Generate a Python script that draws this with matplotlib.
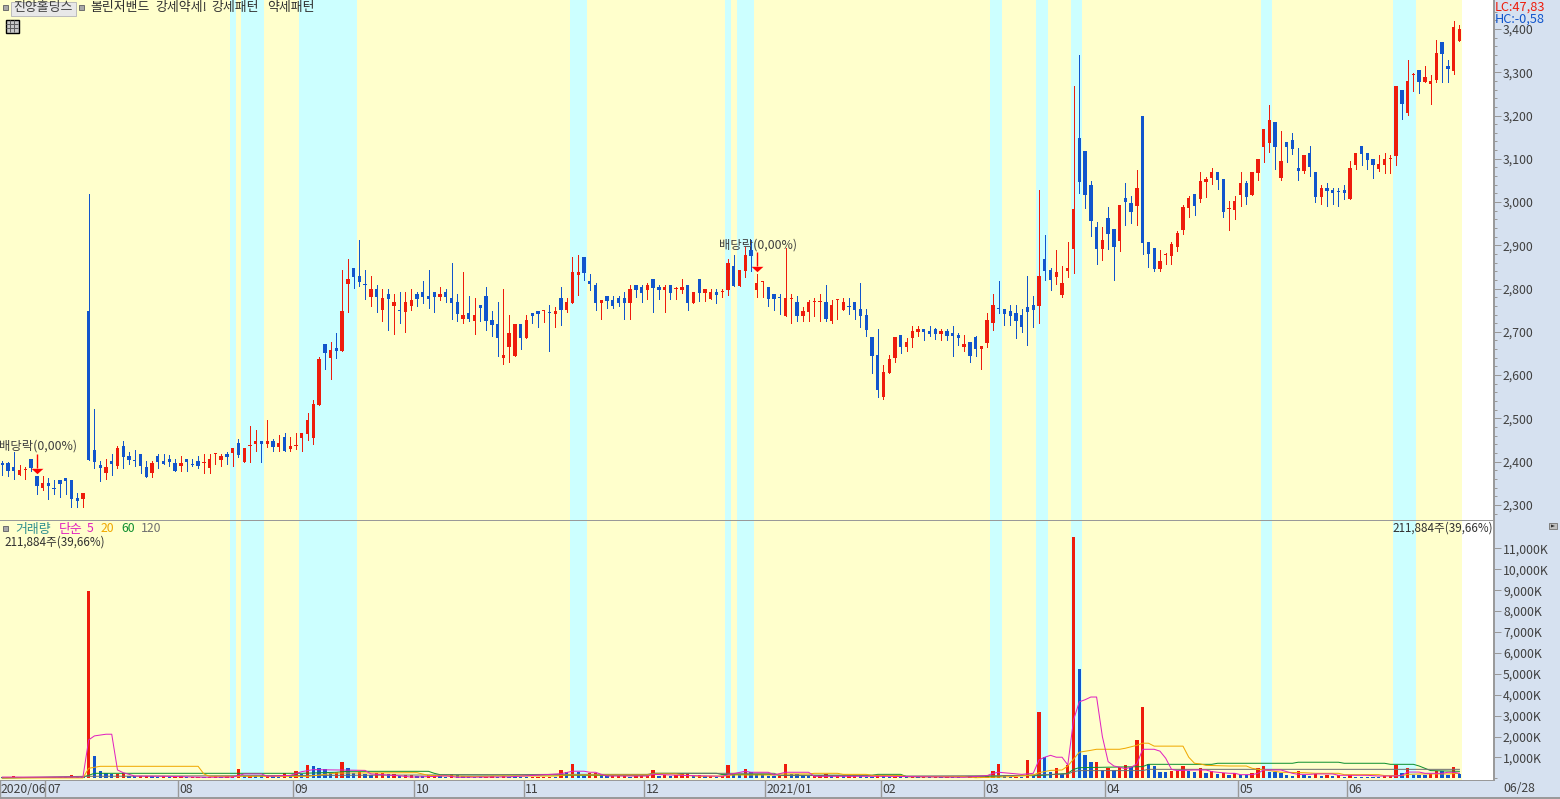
"""Daily candle chart with volume pane, 진양홀딩스, 2020/06 - 2021/06/28."""

import matplotlib
matplotlib.use("Agg")
import matplotlib.pyplot as plt
from matplotlib.patches import Polygon, Rectangle
from matplotlib.ticker import FixedLocator
from matplotlib.transforms import ScaledTranslation
import numpy as np

plt.rcParams["font.family"] = ["Noto Sans CJK KR", "DejaVu Sans"]

open_ = [
    2397, 2397, 2388, 2370, 2380, 2406, 2367, 2340, 2351, 2337,
    2358, 2363, 2358, 2316, 2314, 2748, 2427, 2393, 2374, 2402,
    2390, 2437, 2413, 2402, 2418, 2388, 2374, 2413, 2402, 2406,
    2397, 2390, 2406, 2393, 2402, 2396, 2386, 2417, 2404, 2418,
    2420, 2443, 2400, 2436, 2441, 2448, 2441, 2448, 2434, 2457,
    2430, 2436, 2455, 2464, 2455, 2531, 2672, 2640, 2663, 2656,
    2811, 2848, 2829, 2809, 2781, 2800, 2751, 2788, 2760, 2749,
    2746, 2760, 2788, 2793, 2783, 2793, 2781, 2793, 2779, 2770,
    2730, 2744, 2726, 2763, 2783, 2728, 2719, 2640, 2666, 2645,
    2719, 2686, 2744, 2749, 2748, 2744, 2742, 2779, 2751, 2767,
    2832, 2874, 2818, 2809, 2767, 2783, 2774, 2779, 2779, 2767,
    2809, 2804, 2797, 2823, 2804, 2797, 2809, 2799, 2797, 2809,
    2767, 2823, 2790, 2776, 2793, 2792, 2797, 2853, 2807, 2841,
    2890, 2797, 2815, 2804, 2788, 2779, 2737, 2777, 2769, 2737,
    2746, 2768, 2768, 2769, 2725, 2773, 2751, 2758, 2769, 2753,
    2739, 2688, 2647, 2550, 2605, 2640, 2693, 2665, 2686, 2700,
    2707, 2702, 2707, 2695, 2702, 2698, 2693, 2665, 2677, 2688,
    2661, 2674, 2721, 2753, 2753, 2748, 2744, 2739, 2758, 2762,
    2760, 2869, 2843, 2827, 2786, 2841, 2892, 3148, 3118, 3040,
    2943, 2892, 2963, 2938, 2910, 3010, 2998, 2991, 3199, 2908,
    2894, 2846, 2877, 2876, 2896, 2936, 2987, 3019, 3007, 3047,
    3056, 3070, 3053, 2983, 2982, 3017, 3044, 3017, 3067, 3127,
    3137, 3185, 3056, 3139, 3144, 3079, 3072, 3114, 3070, 3012,
    3033, 3028, 3024, 3028, 3007, 3086, 3130, 3114, 3100, 3077,
    3086, 3099, 3107, 3259, 3206, 3293, 3305, 3278, 3273, 3282,
    3370, 3315, 3303, 3372,
]
close_ = [
    2391, 2379, 2379, 2381, 2380, 2385, 2344, 2351, 2344, 2336,
    2349, 2356, 2314, 2309, 2328, 2404, 2400, 2386, 2388, 2395,
    2432, 2411, 2404, 2401, 2390, 2365, 2397, 2400, 2395, 2400,
    2379, 2397, 2400, 2392, 2390, 2396, 2406, 2417, 2413, 2411,
    2432, 2416, 2432, 2436, 2448, 2441, 2448, 2434, 2443, 2425,
    2437, 2436, 2467, 2497, 2534, 2638, 2651, 2658, 2656, 2748,
    2822, 2827, 2815, 2808, 2800, 2781, 2779, 2776, 2770, 2748,
    2770, 2774, 2776, 2781, 2776, 2781, 2788, 2781, 2767, 2742,
    2740, 2730, 2740, 2756, 2726, 2716, 2686, 2647, 2698, 2719,
    2686, 2728, 2737, 2742, 2748, 2743, 2749, 2751, 2770, 2839,
    2839, 2837, 2811, 2767, 2774, 2772, 2760, 2767, 2767, 2800,
    2797, 2790, 2809, 2802, 2797, 2804, 2790, 2799, 2804, 2767,
    2793, 2790, 2800, 2793, 2786, 2792, 2860, 2807, 2844, 2878,
    2876, 2813, 2815, 2776, 2776, 2778, 2778, 2777, 2737, 2748,
    2769, 2768, 2768, 2730, 2762, 2773, 2769, 2757, 2751, 2737,
    2704, 2644, 2566, 2607, 2638, 2688, 2665, 2677, 2702, 2707,
    2700, 2695, 2695, 2702, 2691, 2691, 2686, 2672, 2644, 2661,
    2668, 2728, 2762, 2752, 2741, 2737, 2725, 2712, 2746, 2751,
    2829, 2841, 2820, 2839, 2813, 2848, 2984, 3047, 3017, 2956,
    2892, 2913, 2926, 2896, 2993, 3000, 2977, 3033, 2906, 2880,
    2846, 2864, 2877, 2903, 2929, 2989, 3010, 2991, 3049, 3053,
    3070, 3051, 2977, 2983, 3003, 3044, 3012, 3070, 3100, 3169,
    3190, 3127, 3095, 3127, 3123, 3072, 3109, 3081, 3012, 3033,
    3026, 3021, 3023, 3021, 3079, 3114, 3111, 3097, 3086, 3088,
    3100, 3099, 3268, 3227, 3280, 3293, 3278, 3289, 3280, 3345,
    3342, 3308, 3405, 3400,
]
high = [
    2402, 2400, 2423, 2393, 2388, 2406, 2367, 2367, 2363, 2358,
    2358, 2363, 2358, 2328, 2328, 3019, 2522, 2402, 2406, 2418,
    2437, 2448, 2423, 2427, 2418, 2402, 2402, 2418, 2418, 2416,
    2406, 2413, 2406, 2406, 2413, 2418, 2418, 2418, 2418, 2423,
    2432, 2453, 2432, 2483, 2473, 2448, 2497, 2453, 2462, 2467,
    2457, 2467, 2467, 2513, 2543, 2642, 2672, 2677, 2698, 2843,
    2869, 2848, 2912, 2844, 2830, 2809, 2800, 2800, 2788, 2793,
    2793, 2800, 2793, 2818, 2844, 2793, 2804, 2800, 2860, 2788,
    2839, 2783, 2779, 2763, 2804, 2749, 2770, 2800, 2740, 2719,
    2719, 2740, 2744, 2749, 2749, 2763, 2758, 2804, 2779, 2874,
    2878, 2874, 2834, 2813, 2774, 2783, 2783, 2783, 2793, 2809,
    2809, 2809, 2813, 2823, 2809, 2809, 2809, 2804, 2823, 2809,
    2793, 2823, 2800, 2800, 2800, 2800, 2869, 2878, 2844, 2897,
    2913, 2834, 2818, 2804, 2788, 2788, 2894, 2788, 2783, 2758,
    2774, 2778, 2788, 2808, 2774, 2774, 2778, 2778, 2769, 2813,
    2753, 2688, 2707, 2624, 2647, 2688, 2693, 2686, 2714, 2714,
    2707, 2714, 2709, 2707, 2707, 2714, 2698, 2693, 2677, 2691,
    2668, 2744, 2788, 2818, 2753, 2762, 2762, 2753, 2829, 2783,
    3028, 2924, 2848, 2889, 2852, 2908, 3268, 3340, 3118, 3049,
    2954, 2943, 2989, 2938, 2993, 3044, 3014, 3074, 3199, 2908,
    2894, 2889, 2883, 2908, 2933, 2993, 3014, 3019, 3070, 3058,
    3079, 3070, 3053, 3003, 3014, 3070, 3049, 3070, 3100, 3169,
    3224, 3185, 3164, 3139, 3160, 3125, 3109, 3130, 3070, 3040,
    3044, 3033, 3033, 3040, 3095, 3114, 3130, 3114, 3100, 3109,
    3114, 3109, 3268, 3259, 3328, 3298, 3305, 3315, 3294, 3375,
    3370, 3328, 3418, 3409,
]
low = [
    2370, 2366, 2360, 2370, 2360, 2379, 2326, 2335, 2314, 2326,
    2319, 2326, 2296, 2296, 2296, 2404, 2386, 2356, 2360, 2370,
    2386, 2386, 2395, 2390, 2374, 2365, 2365, 2386, 2395, 2390,
    2379, 2379, 2379, 2390, 2386, 2374, 2374, 2395, 2390, 2395,
    2390, 2411, 2400, 2400, 2425, 2400, 2434, 2425, 2425, 2425,
    2425, 2430, 2425, 2450, 2441, 2531, 2614, 2591, 2640, 2656,
    2746, 2802, 2806, 2776, 2760, 2746, 2726, 2705, 2696, 2721,
    2700, 2751, 2760, 2767, 2756, 2746, 2774, 2770, 2730, 2726,
    2721, 2726, 2696, 2726, 2705, 2691, 2645, 2626, 2631, 2645,
    2661, 2686, 2721, 2712, 2723, 2656, 2712, 2716, 2746, 2767,
    2786, 2820, 2797, 2751, 2730, 2756, 2756, 2760, 2730, 2730,
    2781, 2770, 2776, 2746, 2776, 2746, 2776, 2776, 2790, 2751,
    2767, 2772, 2772, 2776, 2767, 2781, 2786, 2807, 2807, 2827,
    2841, 2781, 2781, 2760, 2751, 2741, 2737, 2721, 2725, 2725,
    2725, 2737, 2725, 2725, 2721, 2730, 2751, 2741, 2730, 2711,
    2691, 2605, 2550, 2545, 2605, 2631, 2651, 2656, 2665, 2691,
    2681, 2691, 2684, 2681, 2681, 2644, 2670, 2656, 2631, 2644,
    2614, 2665, 2704, 2744, 2716, 2716, 2686, 2700, 2670, 2712,
    2721, 2820, 2797, 2811, 2781, 2827, 2836, 3021, 2987, 2922,
    2857, 2866, 2892, 2820, 2887, 2947, 2952, 2947, 2880, 2850,
    2841, 2841, 2857, 2857, 2887, 2926, 2966, 2970, 3000, 3012,
    3042, 3030, 2966, 2936, 2961, 2991, 2996, 3017, 3051, 3093,
    3116, 3077, 3051, 3093, 3111, 3051, 3067, 3060, 3000, 2996,
    2991, 2996, 2991, 3007, 3007, 3077, 3086, 3077, 3056, 3072,
    3067, 3067, 3086, 3192, 3201, 3257, 3252, 3278, 3227, 3278,
    3278, 3278, 3296, 3372,
]
# volume in thousands of shares
volume = [
    60, 70, 120, 60, 50, 70, 50, 70, 50, 40,
    60, 45, 150, 60, 50, 8950, 1050, 340, 240, 190,
    200, 240, 130, 100, 110, 120, 90, 80, 100, 70,
    85, 95, 60, 70, 85, 60, 75, 95, 70, 90,
    120, 460, 100, 130, 100, 90, 110, 90, 70, 240,
    130, 340, 190, 620, 570, 510, 430, 240, 280, 770,
    480, 240, 300, 190, 150, 240, 260, 190, 220, 120,
    160, 180, 130, 90, 150, 170, 100, 70, 210, 160,
    130, 90, 70, 60, 80, 90, 70, 90, 70, 60,
    50, 45, 55, 65, 75, 85, 60, 400, 290, 690,
    320, 110, 240, 270, 160, 90, 110, 120, 130, 80,
    110, 120, 130, 400, 100, 160, 110, 150, 240, 250,
    120, 140, 90, 110, 80, 100, 640, 210, 150, 450,
    290, 200, 160, 130, 110, 130, 690, 210, 205, 160,
    120, 130, 140, 210, 100, 120, 90, 110, 120, 90,
    70, 60, 140, 90, 70, 85, 65, 55, 65, 60,
    70, 60, 70, 50, 60, 45, 40, 35, 130, 60,
    70, 90, 350, 690, 130, 60, 70, 60, 880, 130,
    3180, 1010, 300, 500, 210, 640, 11550, 5215, 1120, 780,
    790, 400, 500, 400, 540, 640, 540, 1840, 3420, 690,
    590, 300, 290, 350, 360, 590, 350, 300, 500, 255,
    350, 210, 255, 160, 240, 160, 155, 240, 480, 590,
    300, 295, 240, 160, 110, 350, 160, 110, 190, 110,
    160, 110, 160, 65, 160, 65, 60, 55, 50, 45,
    95, 100, 640, 240, 480, 160, 155, 150, 190, 350,
    340, 160, 530, 210,
]

# moving averages of volume, read at their turning points
ma5_x = [0, 14, 15, 16, 18, 19, 20, 21, 23, 28, 35, 40, 42, 45, 46, 50, 52, 54, 58, 63, 64, 69, 71, 75, 77, 79, 88, 97, 99, 101, 102, 103, 104, 105, 112, 113, 118, 125, 126, 129, 130, 133, 134, 136, 140, 141, 154, 167, 171, 172, 173, 175, 177, 179, 180, 181, 182, 183, 184, 185, 186, 187, 188, 189, 190, 191, 192, 193, 194, 195, 196, 197, 198, 200, 201, 202, 203, 204, 207, 209, 210, 211, 213, 214, 215, 217, 218, 219, 222, 223, 224, 225, 227, 228, 231, 232, 237, 239, 242, 243, 244, 246, 247, 250, 251, 252, 253]
ma5_y = [60, 60, 1840, 2030, 2110, 2110, 400, 270, 110, 100, 50, 60, 210, 210, 100, 140, 320, 415, 400, 380, 210, 120, 60, 90, 120, 50, 70, 220, 340, 340, 290, 290, 190, 110, 110, 190, 140, 100, 170, 340, 290, 290, 160, 290, 290, 95, 95, 50, 130, 240, 290, 240, 190, 240, 880, 1010, 1100, 1010, 1010, 640, 2800, 3660, 3760, 3890, 3890, 2000, 800, 590, 530, 460, 530, 690, 1390, 1390, 1300, 960, 430, 370, 400, 400, 320, 290, 240, 240, 175, 175, 240, 400, 400, 320, 240, 190, 190, 210, 210, 145, 145, 110, 110, 145, 300, 300, 240, 240, 290, 290, 240]
ma20_x = [0, 14, 15, 17, 34, 35, 36, 40, 53, 58, 72, 74, 82, 86, 96, 98, 112, 113, 117, 118, 121, 125, 127, 134, 135, 140, 141, 145, 146, 150, 151, 156, 157, 167, 169, 173, 175, 179, 180, 182, 184, 185, 187, 189, 190, 194, 195, 197, 198, 199, 200, 205, 206, 207, 208, 209, 213, 216, 217, 218, 220, 222, 226, 228, 232, 233, 239, 240, 243, 244, 246, 251, 253]
ma20_y = [20, 20, 480, 575, 575, 210, 95, 95, 95, 250, 270, 140, 80, 110, 110, 160, 160, 210, 210, 160, 95, 110, 160, 160, 210, 210, 240, 240, 190, 190, 140, 140, 80, 80, 30, 60, 80, 160, 270, 380, 400, 590, 1250, 1340, 1390, 1390, 1440, 1580, 1680, 1680, 1540, 1540, 1010, 720, 690, 620, 590, 590, 480, 430, 370, 290, 270, 240, 240, 175, 175, 130, 130, 190, 210, 210, 240]
ma60_x = [0, 14, 15, 16, 52, 58, 60, 74, 75, 76, 86, 96, 97, 112, 113, 124, 125, 134, 135, 151, 152, 156, 157, 173, 174, 180, 185, 186, 187, 198, 199, 210, 211, 224, 225, 232, 233, 240, 241, 245, 246, 247, 248, 253]
ma60_y = [20, 60, 145, 240, 240, 290, 335, 335, 240, 175, 160, 160, 145, 145, 240, 240, 180, 180, 145, 145, 190, 190, 80, 80, 130, 130, 240, 430, 510, 560, 670, 670, 720, 720, 770, 770, 720, 720, 670, 670, 590, 480, 370, 335]
ma120_x = [0, 14, 74, 86, 96, 112, 113, 134, 135, 155, 156, 175, 185, 186, 187, 198, 199, 253]
ma120_y = [20, 95, 160, 170, 190, 190, 240, 240, 145, 145, 110, 130, 210, 320, 370, 370, 430, 430]

# first and last candle of each highlighted stretch
band_first = [40, 42, 52, 99, 126, 128, 172, 180, 186, 219, 242]
band_last = [40, 45, 61, 101, 126, 130, 173, 181, 187, 220, 245]

month_first = [0, 8, 31, 51, 72, 91, 112, 133, 153, 171, 192, 215, 234]
month_labels = ["2020/06", "07", "08", "09", "10", "11", "12", "2021/01", "02", "03", "04", "05", "06"]

exdiv_idx = [6, 131]
exdiv_top = [2418, 2885]
exdiv_label_price = [2437, 2901]

price_ticks = list(range(2300, 3500, 100))
volume_ticks = list(range(1000, 12000, 1000))

RED = "#EE1C0C"
BLUE = "#1155CC"
YELLOW = "#FFFFCC"
CYAN = "#CCFFFF"
PANEL = "#D6E1F0"
AXIS_GRAY = "#999999"
TEXT = "#404040"
PX = 0.72  # one pixel in points at dpi 100
KOREAN_SIZE = 9.3
DIGIT_SIZE = 8.8

W, H = 1560, 799
X_MIN, X_MAX = -0.4, 259.0
LAST_EDGE = 253.5
BAR_WIDTH = 0.58

fig = plt.figure(figsize=(W / 100, H / 100), dpi=100, facecolor=PANEL)


def add_pane(top, bottom):
    ax = fig.add_axes([0, 1 - bottom / H, 1494 / W, (bottom - top) / H], facecolor="white")
    ax.set_xlim(X_MIN, X_MAX)
    ax.axvspan(X_MIN, LAST_EDGE, color=YELLOW, lw=0, zorder=0)
    for first, last in zip(band_first, band_last):
        ax.axvspan(first - 0.5, last + 0.5, color=CYAN, lw=0, zorder=0.5, antialiased=False)
    for side in ("top", "left"):
        ax.spines[side].set_visible(False)
    ax.spines["right"].set_color(AXIS_GRAY)
    ax.spines["right"].set_linewidth(1.4)
    ax.spines["bottom"].set_color(AXIS_GRAY)
    ax.spines["bottom"].set_linewidth(PX)
    ax.yaxis.tick_right()
    ax.tick_params(axis="y", which="major", length=5, width=PX, color=AXIS_GRAY,
                   labelsize=DIGIT_SIZE, labelcolor=TEXT, pad=1.5)
    ax.tick_params(axis="y", which="minor", length=2.2, width=PX, color=AXIS_GRAY)
    return ax


# price pane
ax_price = add_pane(0, 520)
ax_price.set_ylim(2265, 3467)
x = np.arange(len(open_))
o, c, h, l = map(np.array, (open_, close_, high, low))
colors = [RED if up else BLUE for up in c >= o]
ax_price.vlines(x, l, h, colors=colors, linewidths=PX, antialiased=False, zorder=2)
ax_price.bar(x, np.maximum(np.abs(c - o), 2.3), bottom=np.minimum(o, c), width=BAR_WIDTH,
             color=colors, linewidth=0, antialiased=False, zorder=3)
ax_price.set_yticks(price_ticks, labels=[f"{t:,}" for t in price_ticks])
ax_price.yaxis.set_minor_locator(FixedLocator(np.arange(2280, 3460, 20)))
ax_price.set_xticks([])

flat_triangle = [(-5.5, 2.5), (5.5, 2.5), (0, -2.5)]
for idx, top, label_price in zip(exdiv_idx, exdiv_top, exdiv_label_price):
    ax_price.vlines(idx, top - 33, top, colors="#FF0000", linewidths=1.0, zorder=4)
    ax_price.plot(idx, top - 39, marker=flat_triangle, ms=8.5, color="#FF0000", mew=0, zorder=5)
    ax_price.text(idx + 0.2, label_price, "배당락(0,00%)", ha="center", va="center",
                  fontsize=8.9, color=TEXT, zorder=6)

# volume pane
ax_vol = add_pane(521, 780)
ax_vol.set_ylim(-80, 12311)
v = np.array(volume)
vol_colors = [BLUE] + [RED if up else BLUE for up in v[1:] > v[:-1]]
ax_vol.bar(x, v, width=BAR_WIDTH, color=vol_colors, linewidth=0, antialiased=False, zorder=2)
ax_vol.plot(ma60_x, ma60_y, color="#109030", lw=PX, zorder=3)
ax_vol.plot(ma120_x, ma120_y, color="#707070", lw=PX, zorder=3)
ax_vol.plot(ma20_x, ma20_y, color="#F0A800", lw=PX, zorder=4)
ax_vol.plot(ma5_x, ma5_y, color="#E020C0", lw=PX, zorder=5)
ax_vol.set_yticks(volume_ticks, labels=[f"{t:,}K" for t in volume_ticks])
ax_vol.yaxis.set_minor_locator(FixedLocator([0]))
ax_vol.set_xticks([X_MIN if m == 0 else m - 0.5 for m in month_first], labels=month_labels)
ax_vol.tick_params(axis="x", length=13, width=1.0, color=AXIS_GRAY, labelsize=DIGIT_SIZE,
                   labelcolor=TEXT, pad=-11)
for i, lab in enumerate(ax_vol.get_xticklabels()):
    shift = ScaledTranslation((0.5 if i == 0 else 1.5) / 100, 0, fig.dpi_scale_trans)
    lab.set_ha("left")
    lab.set_transform(lab.get_transform() + shift)

# window chrome and captions, placed in screen pixels
ov = fig.add_axes([0, 0, 1, 1], facecolor="none")
ov.set_xlim(0, W)
ov.set_ylim(H, 0)
ov.set_axis_off()


def square(px, py, size=5):
    ov.add_patch(Rectangle((px, py), size, size, fc="#A8A8A8", ec="#707070", lw=PX))


square(3, 5)
square(79, 5)
ov.add_patch(Rectangle((10.5, 1.5), 65, 14, fc="#E8E8E8", ec="#BDBDBD", lw=PX))
ov.text(43, 8, "진양홀딩스", ha="center", va="center", fontsize=KOREAN_SIZE, color=TEXT)
for tx, word in zip([90, 155, 211, 267], ["볼린저밴드", "강세약세!", "강세패턴", "약세패턴"]):
    ov.text(tx, 8, word, ha="left", va="center", fontsize=KOREAN_SIZE, color="#303030")
ov.add_patch(Rectangle((5.5, 19.5), 13, 13, fc="#C8C8C8", ec="black", lw=PX * 1.4))
for gx in (9.5, 13.5):
    ov.vlines(gx, 20, 32, colors="#606060", lw=PX)
for gy in (23.5, 27.5):
    ov.hlines(gy, 6, 18, colors="#606060", lw=PX)

ov.text(1495, 7, "LC:47,83", ha="left", va="center", fontsize=9.2, color=RED)
ov.text(1495, 19, "HC:-0,58", ha="left", va="center", fontsize=9.2, color=BLUE)

square(3, 526)
ov.text(15, 529, "거래량", ha="left", va="center", fontsize=KOREAN_SIZE, color="#309090")
ov.text(59, 529, "단순", ha="left", va="center", fontsize=KOREAN_SIZE, color="#E020C0")
ov.text(87, 529, "5", ha="left", va="center", fontsize=DIGIT_SIZE, color="#E020C0")
ov.text(101, 529, "20", ha="left", va="center", fontsize=DIGIT_SIZE, color="#F0A800")
ov.text(121, 529, "60", ha="left", va="center", fontsize=DIGIT_SIZE, color="#109030")
ov.text(141, 529, "120", ha="left", va="center", fontsize=DIGIT_SIZE, color="#707070")
ov.text(4, 542, "211,884주(39,66%)", ha="left", va="center", fontsize=8.4, color="#303030")
ov.text(1493, 528, "211,884주(39,66%)", ha="right", va="center", fontsize=8.4, color="#303030")
ov.add_patch(Rectangle((1549, 523), 8, 6, fc="#C0C0C0", ec="#808080", lw=PX))
ov.add_patch(Polygon([(1551, 524.5), (1555, 526), (1551, 527.5)], fc="#303030", lw=0))
ov.text(1503, 789, "06/28", ha="left", va="center", fontsize=DIGIT_SIZE, color=TEXT)
ov.hlines(798, 0, W, colors=AXIS_GRAY, lw=1.4)

fig.savefig("out.png", dpi=100, facecolor=fig.get_facecolor())
